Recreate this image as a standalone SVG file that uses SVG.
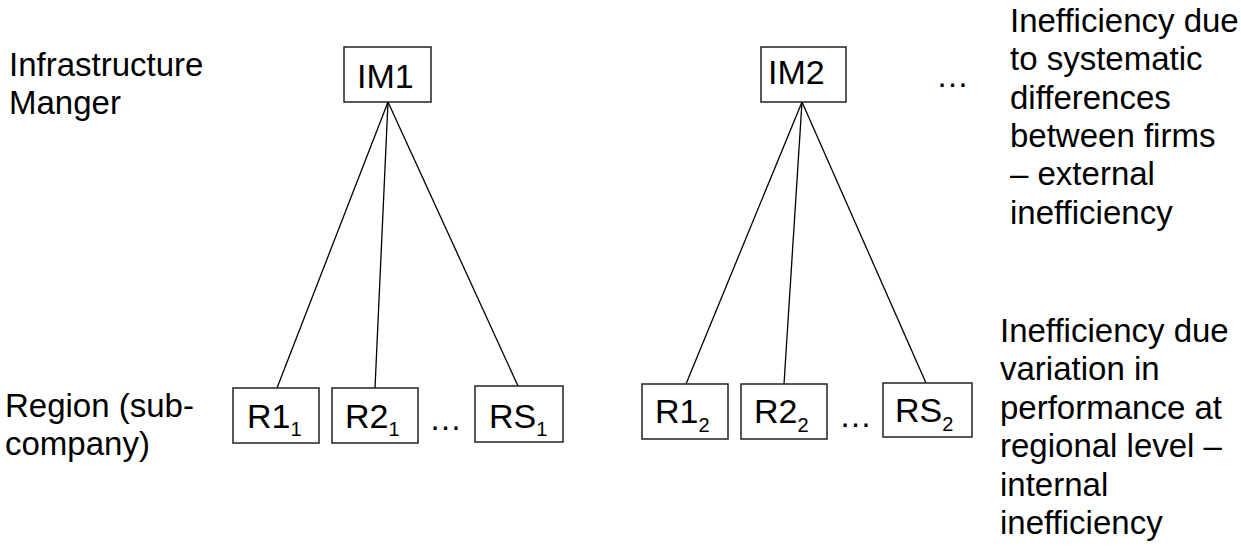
<svg xmlns="http://www.w3.org/2000/svg" width="1241" height="548" viewBox="0 0 1241 548">
  <style>
    .box { fill: #ffffff; stroke: #222222; stroke-width: 1.5; }
    .link { stroke: #000000; stroke-width: 1.3; fill: none; }
    .lbl { font-family: "Liberation Sans", Arial, sans-serif; font-size: 33px; fill: #000000; }
    .nd { font-family: "Liberation Sans", Arial, sans-serif; font-size: 34px; fill: #000000; }
    .sub { font-size: 20px; }
  </style>
  <rect width="1241" height="548" fill="#ffffff"/>

  <!-- level captions -->
  <g id="caption-im">
    <text class="lbl" x="9" y="76">Infrastructure</text>
    <text class="lbl" x="9" y="114">Manger</text>
  </g>
  <g id="caption-region">
    <text class="lbl" x="5" y="417">Region (sub-</text>
    <text class="lbl" x="5" y="455">company)</text>
  </g>

  <!-- connectors -->
  <g id="connectors">
    <line class="link" x1="388" y1="102" x2="277" y2="388"/>
    <line class="link" x1="388" y1="102" x2="375" y2="388"/>
    <line class="link" x1="388" y1="102" x2="518" y2="386"/>
    <line class="link" x1="802" y1="102" x2="686" y2="384"/>
    <line class="link" x1="802" y1="102" x2="784" y2="384"/>
    <line class="link" x1="802" y1="102" x2="926" y2="383"/>
  </g>

  <!-- firm 1 -->
  <g id="im1">
    <rect class="box" x="344" y="47" width="87" height="55"/>
    <text class="nd" x="357" y="88">IM1</text>
  </g>
  <g id="r1-1">
    <rect class="box" x="233" y="388" width="86" height="55"/>
    <text class="nd" x="247" y="428">R1<tspan class="sub" dy="8">1</tspan></text>
  </g>
  <g id="r2-1">
    <rect class="box" x="332" y="388" width="86" height="55"/>
    <text class="nd" x="345" y="428">R2<tspan class="sub" dy="8">1</tspan></text>
  </g>
  <g id="dots-1">
    <text class="lbl" x="429" y="430">…</text>
  </g>
  <g id="rs-1">
    <rect class="box" x="475" y="386" width="88" height="56"/>
    <text class="nd" x="489" y="428">RS<tspan class="sub" dy="8">1</tspan></text>
  </g>

  <!-- firm 2 -->
  <g id="im2">
    <rect class="box" x="761" y="47" width="85" height="55"/>
    <text class="nd" x="768" y="84">IM2</text>
  </g>
  <g id="dots-firms">
    <text class="lbl" x="936" y="87">…</text>
  </g>
  <g id="r1-2">
    <rect class="box" x="642" y="384" width="86" height="55"/>
    <text class="nd" x="655" y="423">R1<tspan class="sub" dy="9">2</tspan></text>
  </g>
  <g id="r2-2">
    <rect class="box" x="741" y="384" width="86" height="55"/>
    <text class="nd" x="754" y="423">R2<tspan class="sub" dy="9">2</tspan></text>
  </g>
  <g id="dots-2">
    <text class="lbl" x="839" y="427">…</text>
  </g>
  <g id="rs-2">
    <rect class="box" x="883" y="383" width="89" height="54"/>
    <text class="nd" x="895" y="422">RS<tspan class="sub" dy="9">2</tspan></text>
  </g>

  <!-- explanatory notes -->
  <g id="note-external">
    <text class="lbl" x="1010" y="32">Inefficiency due</text>
    <text class="lbl" x="1010" y="70">to systematic</text>
    <text class="lbl" x="1010" y="109">differences</text>
    <text class="lbl" x="1010" y="147">between firms</text>
    <text class="lbl" x="1010" y="185">– external</text>
    <text class="lbl" x="1010" y="224">inefficiency</text>
  </g>
  <g id="note-internal">
    <text class="lbl" x="1000" y="342">Inefficiency due</text>
    <text class="lbl" x="1000" y="380">variation in</text>
    <text class="lbl" x="1000" y="419">performance at</text>
    <text class="lbl" x="1000" y="457">regional level –</text>
    <text class="lbl" x="1000" y="496">internal</text>
    <text class="lbl" x="1000" y="534">inefficiency</text>
  </g>
</svg>
